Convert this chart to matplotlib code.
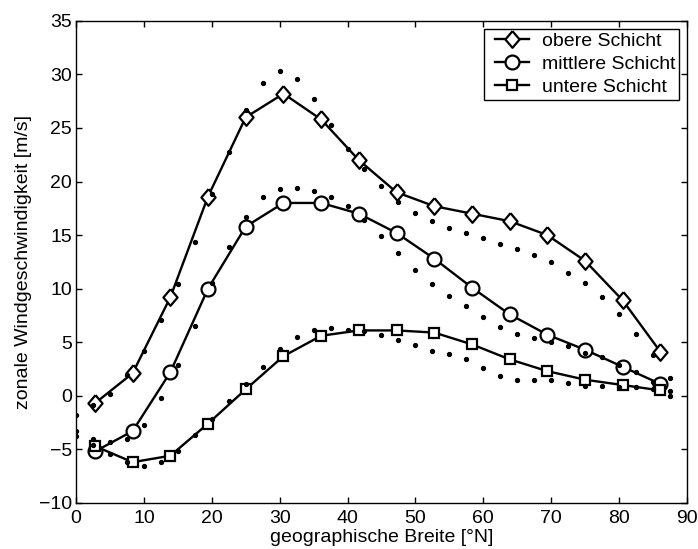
#!/usr/bin/env python3

import numpy as np
import matplotlib
matplotlib.use("Agg")
import matplotlib.pyplot as plt
from matplotlib.legend_handler import HandlerLine2D

# model levels (solid lines with markers), every 5.56 deg latitude
lat_coarse = [2.78, 8.33, 13.89, 19.44, 25.0, 30.56, 36.11, 41.67,
			  47.22, 52.78, 58.33, 63.89, 69.44, 75.0, 80.56, 86.11]
obere = [-0.7, 2.1, 9.2, 18.6, 26.0, 28.2, 25.8, 22.0,
		 19.0, 17.7, 17.0, 16.3, 15.0, 12.6, 8.9, 4.1]
mittlere = [-5.2, -3.3, 2.2, 10.0, 15.8, 18.0, 18.0, 17.0,
			15.2, 12.8, 10.1, 7.6, 5.7, 4.3, 2.7, 1.1]
untere = [-4.7, -6.2, -5.6, -2.6, 0.6, 3.7, 5.6, 6.1,
		  6.1, 5.9, 4.8, 3.4, 2.3, 1.5, 1.0, 0.5]

# reference data (dots), every 2.5 deg latitude
lat_fine = [0.0, 2.5, 5.0, 7.5, 10.0, 12.5, 15.0, 17.5, 20.0, 22.5, 25.0, 27.5,
			30.0, 32.5, 35.0, 37.5, 40.0, 42.5, 45.0, 47.5, 50.0, 52.5, 55.0, 57.5,
			60.0, 62.5, 65.0, 67.5, 70.0, 72.5, 75.0, 77.5, 80.0, 82.5, 85.0, 87.5]
obere_ref = [-1.8, -0.9, 0.2, 1.9, 4.2, 7.1, 10.4, 14.4, 18.8, 22.8, 26.7, 29.2,
			 30.3, 29.6, 27.7, 25.3, 23.0, 21.2, 19.6, 18.1, 17.1, 16.3, 15.7, 15.2,
			 14.7, 14.2, 13.7, 13.1, 12.5, 11.5, 10.5, 9.2, 7.6, 5.8, 3.8, 1.7]
mittlere_ref = [-3.8, -4.0, -4.3, -4.0, -2.7, -0.2, 2.9, 6.5, 10.5, 13.9, 16.7, 18.6,
				19.3, 19.4, 19.1, 18.6, 17.7, 16.4, 14.9, 13.3, 11.7, 10.4, 9.3, 8.4,
				7.4, 6.4, 5.8, 5.4, 5.0, 4.6, 4.0, 3.6, 2.9, 2.2, 1.3, 0.4]
untere_ref = [-3.3, -4.6, -5.4, -6.2, -6.6, -6.2, -5.2, -3.7, -2.2, -0.5, 1.1, 2.7,
			  4.4, 5.5, 6.1, 6.3, 6.1, 6.0, 5.7, 5.2, 4.7, 4.2, 3.9, 3.4,
			  2.6, 1.8, 1.5, 1.5, 1.5, 1.2, 0.9, 0.9, 0.8, 0.8, 0.6, 0.0]

labels = ['obere Schicht', 'mittlere Schicht', 'untere Schicht']

# slightly tall diamond like the matlab one
diamond = [(0, 1), (0.85, 0), (0, -1), (-0.85, 0), (0, 1)]


def main():
	plt.rcParams['font.family'] = ['Liberation Sans', 'DejaVu Sans']
	plt.rcParams['font.size'] = 14

	fig = plt.figure(figsize=(6.98, 5.49), dpi=100)
	ax = fig.add_axes([0.109, 0.084, 0.875, 0.878])

	style = dict(color='black', lw=1.7, mfc='white', mec='black', mew=1.6)
	l1, = ax.plot(lat_coarse, obere, marker=diamond, ms=12, label=labels[0], **style)
	l2, = ax.plot(lat_coarse, mittlere, marker='o', ms=10, label=labels[1], **style)
	l3, = ax.plot(lat_coarse, untere, marker='s', ms=7.5, label=labels[2], **style)

	for ref in (obere_ref, mittlere_ref, untere_ref):
		ax.plot(lat_fine, ref, ls='none', marker='o', ms=2.8, color='black')

	ax.set_xlim(0, 90)
	ax.set_ylim(-10, 35)
	ax.set_xticks(np.arange(0, 91, 10))
	ax.set_yticks(np.arange(-10, 36, 5))
	ax.tick_params(direction='in', top=True, right=True, length=4.5, width=1,
				   labelsize=14)
	ax.tick_params(axis='x', pad=5)
	ax.tick_params(axis='y', pad=3)
	for sp in ax.spines.values():
		sp.set_linewidth(1)
	ax.set_xlabel('geographische Breite [°N]', fontsize=14, labelpad=1.5)
	ax.set_ylabel('zonale Windgeschwindigkeit [m/s]', fontsize=14, labelpad=5)

	hmap = {l: HandlerLine2D(xpad=0.36) for l in (l1, l2, l3)}
	leg = ax.legend(loc='upper right', fancybox=False, edgecolor='black',
					framealpha=1, borderaxespad=0.4, handlelength=2.1,
					handletextpad=0.67, labelspacing=0.28, borderpad=0.2,
					fontsize=14, handler_map=hmap)
	leg.get_frame().set_linewidth(1)

	fig.savefig('out.png', dpi=100)


if __name__ == '__main__':
	main()
